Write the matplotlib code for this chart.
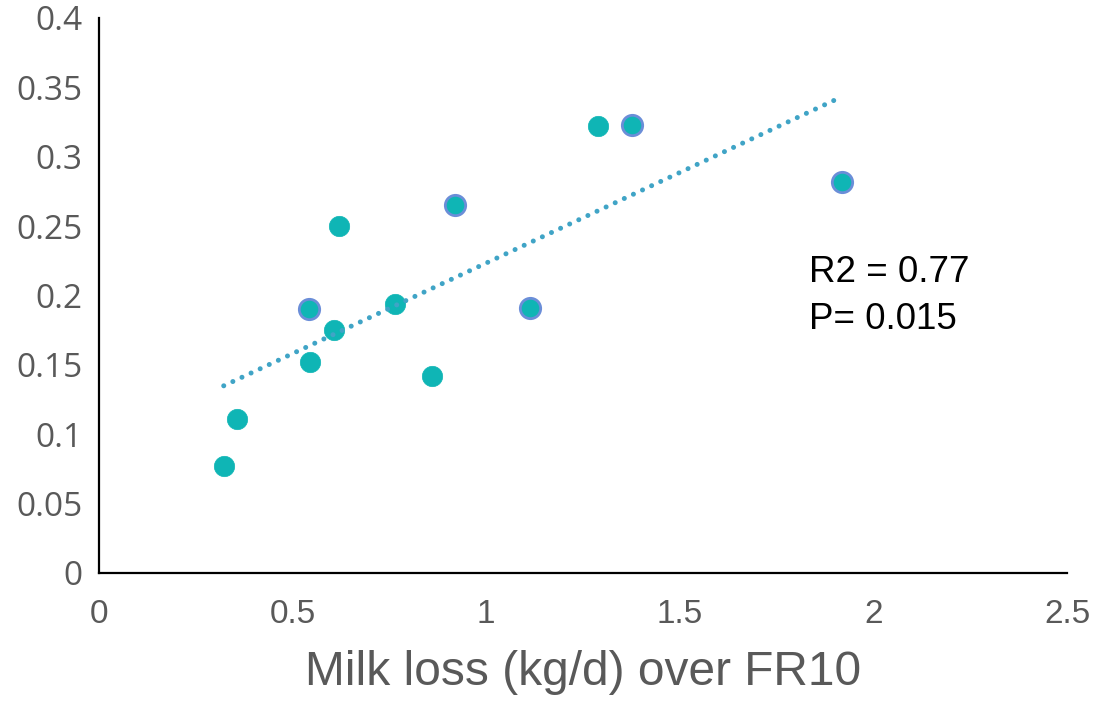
import numpy as np
import matplotlib.pyplot as plt

# data
milk_loss = [0.322, 0.356, 0.541, 0.546, 0.608, 0.621, 0.765, 0.861, 0.920, 1.113, 1.289, 1.376, 1.920]
y_vals = [0.077, 0.111, 0.190, 0.152, 0.175, 0.250, 0.194, 0.142, 0.265, 0.191, 0.322, 0.323, 0.282]
has_edge = [False, False, True, False, False, False, False, False, True, True, False, True, True]

x_ticks = [0, 0.5, 1, 1.5, 2, 2.5]
x_tick_labels = ['0', '0.5', '1', '1.5', '2', '2.5']
y_ticks = [0, 0.05, 0.1, 0.15, 0.2, 0.25, 0.3, 0.35, 0.4]
y_tick_labels = ['0', '0.05', '0.1', '0.15', '0.2', '0.25', '0.3', '0.35', '0.4']

plt.rcParams['font.family'] = ['Liberation Sans', 'DejaVu Sans']

fig = plt.figure(figsize=(11.03, 7.02), dpi=100)
ax = fig.add_axes([0.0898, 0.1838, 0.8776, 0.7906])

x = np.array(milk_loss)
y = np.array(y_vals)
edge = np.array(has_edge)

fill = '#0FB5B5'
ax.scatter(x[~edge], y[~edge], s=215, color=fill, edgecolors=fill, linewidths=0.5, zorder=3)
ax.scatter(x[edge], y[edge], s=215, color=fill, edgecolors='#6B8ED8', linewidths=2, zorder=3)

# linear trendline
m, b = np.polyfit(x, y, 1)
xt = np.array([x.min(), x.max()])
ax.plot(xt, m * xt + b, color='#40A4C6', lw=3.6, dashes=(0.01, 2.0),
        dash_capstyle='round', zorder=4)

ax.text(1.833, 0.1703, 'R2 = 0.77\nP= 0.015', fontsize=26.5, color='black',
        linespacing=1.42, va='bottom')

ax.set_xlim(0, 2.5)
ax.set_ylim(0, 0.4)
ax.set_xticks(x_ticks)
ax.set_xticklabels(x_tick_labels, fontsize=24, color='#595959')
ax.set_yticks(y_ticks)
ax.set_yticklabels(y_tick_labels, fontsize=24, color='#595959', family=['Open Sans', 'DejaVu Sans'])
ax.tick_params(axis='x', length=0, pad=19)
ax.tick_params(axis='y', length=0, pad=12)
for s in ['top', 'right']:
    ax.spines[s].set_visible(False)
for s in ['left', 'bottom']:
    ax.spines[s].set_linewidth(1.6)
    ax.spines[s].set_color('black')

ax.set_xlabel('Milk loss (kg/d) over FR10', fontsize=34.5, color='#595959', labelpad=14)

fig.savefig('out.png', dpi=100)
